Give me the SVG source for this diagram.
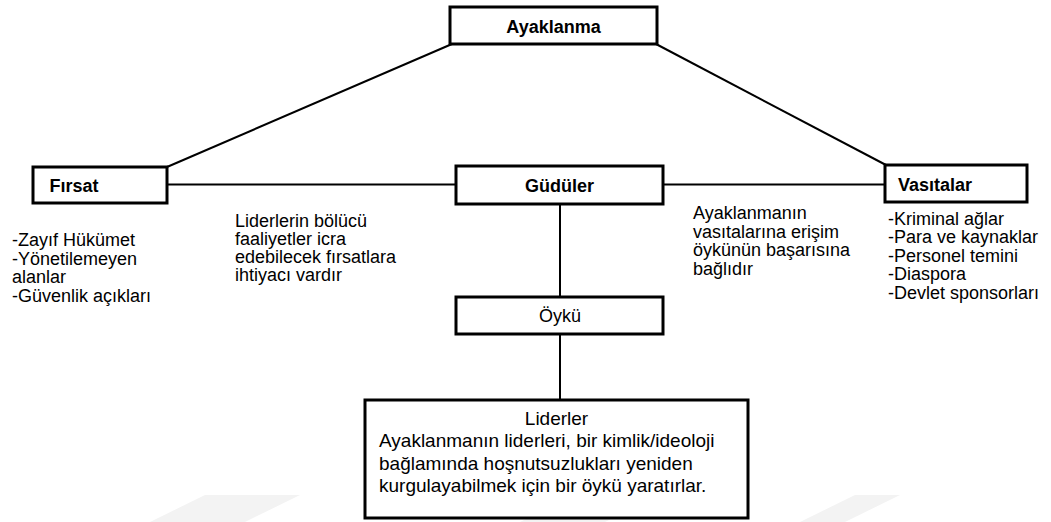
<svg xmlns="http://www.w3.org/2000/svg" width="1051" height="522" viewBox="0 0 1051 522">
  <style>
    .box { fill: #ffffff; stroke: #000000; stroke-width: 3; }
    .conn { stroke: #000000; stroke-width: 2; fill: none; }
    .t { font-family: "Liberation Sans", Arial, sans-serif; font-size: 18px; fill: #000000; }
    .b { font-weight: bold; }
    .mid { text-anchor: middle; }
    .big { font-size: 19px; }
    .wm { fill: #f3f3f3; }
  </style>
  <rect x="0" y="0" width="1051" height="522" fill="#ffffff"/>
  <g id="watermark">
    <polygon class="wm" points="150,522 205,495 300,495 245,522"/>
    <polygon class="wm" points="520,522 575,495 660,495 605,522"/>
    <polygon class="wm" points="800,522 855,495 900,495 845,522"/>
  </g>
  <g id="connectors">
    <line class="conn" x1="452" y1="44" x2="167" y2="167"/>
    <line class="conn" x1="656" y1="44" x2="886" y2="165"/>
    <line class="conn" x1="167" y1="184.5" x2="456" y2="184.5"/>
    <line class="conn" x1="663" y1="184.5" x2="885" y2="184.5"/>
    <line class="conn" x1="560" y1="204" x2="560" y2="297"/>
    <line class="conn" x1="560" y1="334" x2="560" y2="400"/>
  </g>
  <g id="node-ayaklanma">
    <rect class="box" x="450" y="7" width="207" height="37"/>
    <text class="t b mid" x="553.5" y="32.5">Ayaklanma</text>
  </g>
  <g id="node-firsat">
    <rect class="box" x="33" y="167" width="134" height="36"/>
    <text class="t b" x="49.5" y="192">Fırsat</text>
  </g>
  <g id="node-guduler">
    <rect class="box" x="456" y="166" width="207" height="38"/>
    <text class="t b mid" x="559.5" y="192">Güdüler</text>
  </g>
  <g id="node-vasitalar">
    <rect class="box" x="885" y="165" width="142" height="37"/>
    <text class="t b" x="898" y="191">Vasıtalar</text>
  </g>
  <g id="node-oyku">
    <rect class="box" x="456" y="297" width="207" height="37"/>
    <text class="t mid" x="560" y="322">Öykü</text>
  </g>
  <g id="node-liderler">
    <rect class="box" x="365" y="400" width="383" height="118"/>
    <text class="t big mid" x="556.5" y="425">Liderler</text>
    <text class="t big" x="379" y="447">Ayaklanmanın liderleri, bir kimlik/ideoloji</text>
    <text class="t big" x="379" y="469.5">bağlamında hoşnutsuzlukları yeniden</text>
    <text class="t big" x="379" y="492">kurgulayabilmek için bir öykü yaratırlar.</text>
  </g>
  <g id="label-firsat-list">
    <text class="t" x="12" y="246">-Zayıf Hükümet</text>
    <text class="t" x="12" y="264.5">-Yönetilemeyen</text>
    <text class="t" x="12" y="283">alanlar</text>
    <text class="t" x="12" y="301.5">-Güvenlik açıkları</text>
  </g>
  <g id="label-left-mid">
    <text class="t" x="235" y="227">Liderlerin bölücü</text>
    <text class="t" x="235" y="245">faaliyetler icra</text>
    <text class="t" x="235" y="263">edebilecek fırsatlara</text>
    <text class="t" x="235" y="281">ihtiyacı vardır</text>
  </g>
  <g id="label-right-mid">
    <text class="t" x="693" y="219">Ayaklanmanın</text>
    <text class="t" x="693" y="237.5">vasıtalarına erişim</text>
    <text class="t" x="693" y="256">öykünün başarısına</text>
    <text class="t" x="693" y="274.5">bağlıdır</text>
  </g>
  <g id="label-vasitalar-list">
    <text class="t" x="888" y="224.5">-Kriminal ağlar</text>
    <text class="t" x="888" y="243">-Para ve kaynaklar</text>
    <text class="t" x="888" y="261.5">-Personel temini</text>
    <text class="t" x="888" y="280">-Diaspora</text>
    <text class="t" x="888" y="298.5">-Devlet sponsorları</text>
  </g>
</svg>
